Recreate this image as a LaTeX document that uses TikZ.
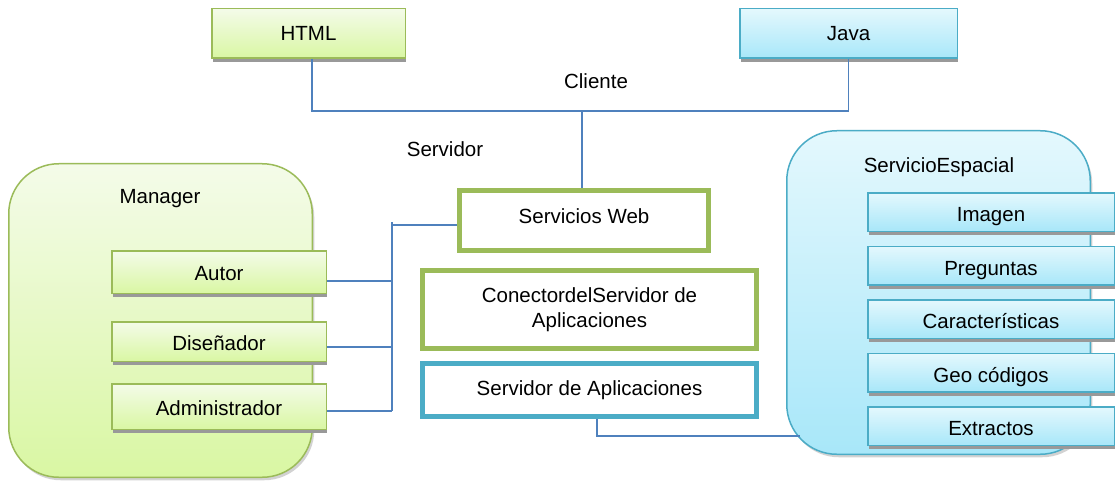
\documentclass[tikz,border=0pt]{standalone}
\usepackage{fontspec}
\setmainfont{Liberation Sans}
\usepackage{tikz}
\usetikzlibrary{positioning,shadows}
\definecolor{grnline}{HTML}{9BBB59}
\definecolor{grntop}{HTML}{F4FBE9}
\definecolor{grnbot}{HTML}{D9F7A3}
\definecolor{bluline}{HTML}{4BACC6}
\definecolor{blutop}{HTML}{E4F8FD}
\definecolor{blubot}{HTML}{A8E7F9}
\definecolor{linkblue}{HTML}{4F81BD}

\begin{document}
\begin{tikzpicture}[x=1pt,y=-1pt,
  every node/.style={font=\fontsize{20.5}{25}\selectfont,inner sep=0pt},
  boxshadow/.style={drop shadow={shadow xshift=1pt,shadow yshift=-4pt,fill=black!40,opacity=1}},
  greenbox/.style={draw=grnline,line width=1.5pt,top color=grntop,bottom color=grnbot,boxshadow},
  bluebox/.style={draw=bluline,line width=1.5pt,top color=blutop,bottom color=blubot,boxshadow},
  group/.style={rounded corners=50pt,line width=1.5pt,minimum width=303.5pt,
    drop shadow={shadow xshift=2pt,shadow yshift=-3pt,fill=black!35,opacity=0.5}},
  layer/.style={line width=5pt,fill=white,minimum width=334pt,align=center},
  link/.style={draw=linkblue,line width=1.5pt}]
  \useasboundingbox[fill=white] (0,0) rectangle (1118,481);

  \node[group,draw=grnline,top color=grntop,bottom color=grnbot,minimum height=313.5pt] (manager) at (160.5,320.5) {};
  \node[group,draw=bluline,top color=blutop,bottom color=blubot,minimum height=323.5pt] (espacial) at (938.5,292.5) {};
  \node (managerTxt) at (160,199) {Manager};
  \node (espacialTxt) at (939,167) {ServicioEspacial};

  \node[greenbox,minimum width=193.5pt,minimum height=49.5pt] (html) at (308.5,33.5) {HTML};
  \node[bluebox,minimum width=217.5pt,minimum height=49.5pt] (java) at (848.5,33.5) {Java};
  \node (cliente) at (596,81) {Cliente};
  \node (servidor) at (445,149) {Servidor};

  \tikzset{every node/.append style={text height=17pt,text depth=0pt}}
  \node[greenbox,minimum width=214.5pt,minimum height=42.5pt] (autor) at (219,272) {Autor};
  \node[greenbox,minimum width=214.5pt,minimum height=39.5pt] (disenador) at (219,341.5) {Diseñador};
  \node[greenbox,minimum width=214.5pt,minimum height=45.5pt] (admin) at (219,406.5) {Administrador};

  \foreach \n/\t [count=\i from 0] in {imagen/Imagen,preguntas/Preguntas,caract/Características,geo/Geo códigos,extractos/Extractos}
    \node[bluebox,minimum width=246.5pt,minimum height=38.5pt,text height=19pt] (\n) at (991,{212+53.5*\i}) {\t};
  \tikzset{every node/.append style={text height=,text depth=}}

  \node[layer,draw=grnline,minimum width=249pt,minimum height=60pt,text depth=9pt] (web) at (584,220.5) {Servicios Web};
  \node[layer,draw=grnline,minimum height=78pt] (conector) at (589.5,309.5) {ConectordelServidor de\\Aplicaciones};
  \node[layer,draw=bluline,minimum height=53pt] (sapp) at (589.5,390) {Servidor de Aplicaciones};

  \draw[link] ([xshift=3.5pt]html.south) -- ++(0,52) -| (java.south);
  \draw[link] ([xshift=-2pt]web.north) -- ++(0,-77);

  \coordinate (bustop) at (392,222);
  \coordinate (busbot) at (392,411);
  \draw[link] (bustop) -- (busbot);
  \draw[link] ([yshift=-4.5pt]web.west) -- ([yshift=-4.5pt]web.west -| bustop);
  \foreach \n/\s in {autor/9,disenador/5.5,admin/4.5}
    \draw[link] ([yshift=-\s pt]\n.east) -- ([yshift=-\s pt]\n.east -| bustop);

  \coordinate (espedge) at (800,436);
  \draw[link] ([xshift=7.5pt]sapp.south) |- (espedge);
\end{tikzpicture}
\end{document}
